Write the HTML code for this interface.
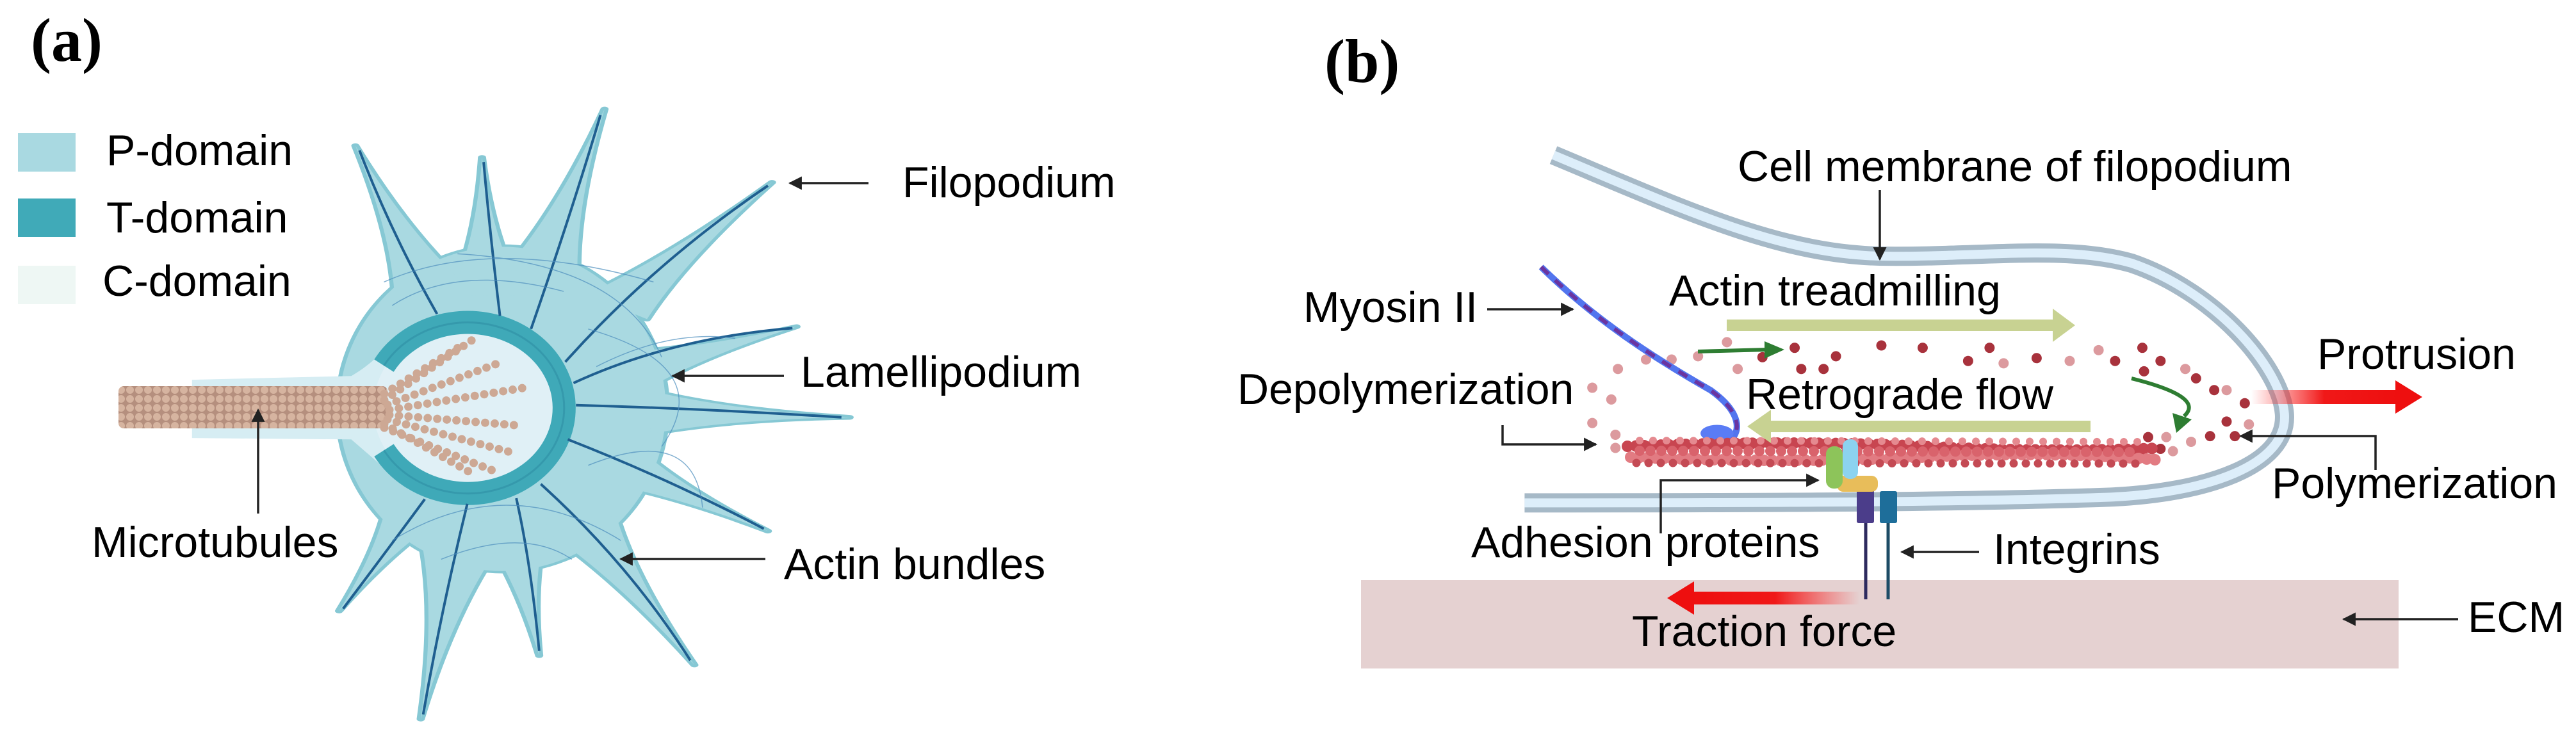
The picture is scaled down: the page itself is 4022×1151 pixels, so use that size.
<!DOCTYPE html>
<html><head><meta charset="utf-8"><style>
html,body{margin:0;padding:0;background:#fff;}
svg{display:block;}
.t{font-family:"Liberation Sans",sans-serif;font-size:68px;fill:#000;}
.h{font-family:"Liberation Serif",serif;font-weight:bold;font-size:96px;fill:#000;}
.ln{stroke:#222;stroke-width:3.5;fill:none;}
</style></head><body>
<svg width="4022" height="1151" viewBox="0 0 4022 1151" xmlns="http://www.w3.org/2000/svg" xmlns:xlink="http://www.w3.org/1999/xlink">
<defs>
<marker id="ah" viewBox="0 0 10 10" refX="9" refY="5" markerWidth="6" markerHeight="6" orient="auto"><path d="M0,0 L10,5 L0,10 z" fill="#222"/></marker>
<linearGradient id="gp" x1="0" x2="1" y1="0" y2="0"><stop offset="0" stop-color="#ff2a2a" stop-opacity="0"/><stop offset="0.5" stop-color="#f01818"/><stop offset="1" stop-color="#ee0f0f"/></linearGradient>
<linearGradient id="gt" x1="1" x2="0" y1="0" y2="0"><stop offset="0" stop-color="#ff2a2a" stop-opacity="0"/><stop offset="0.5" stop-color="#f01818"/><stop offset="1" stop-color="#ee0f0f"/></linearGradient>
<pattern id="mt" width="14" height="14" patternUnits="userSpaceOnUse"><rect width="14" height="14" fill="#b58f7e"/><circle cx="7" cy="7" r="6" fill="#d6b4a0"/></pattern>
<g id="cell">
<ellipse cx="615" cy="870" rx="200" ry="345"/>
<path d="M569,605 Q499,492 435,310 Q479,498 483,631 Z"/>
<path d="M641,628 Q603,512 590,335 Q583,512 551,630 Z"/>
<path d="M707,593 Q704,445 740,232 Q684,441 619,573 Z"/>
<path d="M792,679 Q839,553 945,388 Q823,541 718,627 Z"/>
<path d="M788,832 Q855,762 975,695 Q847,744 750,750 Z"/>
<path d="M796,923 Q895,892 1040,888 Q895,872 800,833 Z"/>
<path d="M726,1023 Q822,1052 940,1130 Q834,1036 780,951 Z"/>
<path d="M672,1134 Q759,1239 850,1415 Q777,1231 754,1096 Z"/>
<path d="M582,1111 Q630,1223 660,1395 Q650,1221 672,1101 Z"/>
<path d="M517,1161 Q533,1311 515,1530 Q553,1313 607,1173 Z"/>
<path d="M476,1046 Q467,1154 415,1300 Q485,1162 558,1082 Z"/>
</g>
</defs>

<!-- Panel a -->
<text class="h" x="48" y="95">(a)</text>
<rect x="28" y="208" width="90" height="60" fill="#a9d9e1"/>
<rect x="28" y="310" width="90" height="60" fill="#40aab8"/>
<rect x="28" y="415" width="90" height="60" fill="#eef7f4"/>
<text class="t" x="166" y="258">P-domain</text>
<text class="t" x="166" y="363">T-domain</text>
<text class="t" x="160" y="462">C-domain</text>

<g transform="scale(1.2755,0.734)">
<use xlink:href="#cell" href="#cell" fill="#86c8d4" stroke="#86c8d4" stroke-width="10" stroke-linejoin="round"/>
<use xlink:href="#cell" href="#cell" fill="#a9d9e1"/>
<path d="M235,808 L430,800 C450,780 470,750 480,720 L480,1010 C460,980 440,950 430,935 L235,932 Z" fill="#d6edf3"/>
<ellipse cx="575" cy="868" rx="118" ry="182" fill="#e0f0f6"/>
<path vector-effect="non-scaling-stroke" d="M470,778 A118 182 0 1 1 470,958" fill="none" stroke="#3fa9b8" stroke-width="36"/>
<path vector-effect="non-scaling-stroke" d="M470,778 A118 182 0 1 1 470,958" fill="none" stroke="#2f8fa5" stroke-width="3" opacity="0.6"/>
<g fill="none" stroke="#1f5f90" stroke-width="4">
<path vector-effect="non-scaling-stroke" d="M535,668 Q480,500 440,320"/>
<path vector-effect="non-scaling-stroke" d="M612,672 Q600,500 592,345"/>
<path vector-effect="non-scaling-stroke" d="M650,700 Q700,450 735,245"/>
<path vector-effect="non-scaling-stroke" d="M692,770 Q800,560 940,395"/>
<path vector-effect="non-scaling-stroke" d="M702,815 Q820,720 970,698"/>
<path vector-effect="non-scaling-stroke" d="M705,862 Q870,870 1030,888"/>
<path vector-effect="non-scaling-stroke" d="M695,935 Q820,1020 935,1125"/>
<path vector-effect="non-scaling-stroke" d="M662,1030 Q770,1200 845,1405"/>
<path vector-effect="non-scaling-stroke" d="M632,1060 Q650,1200 660,1385"/>
<path vector-effect="non-scaling-stroke" d="M572,1072 Q540,1300 518,1520"/>
<path vector-effect="non-scaling-stroke" d="M520,1062 Q470,1180 420,1295"/>
</g>
<g fill="none" stroke="#4e8fbe" stroke-width="1.5" opacity="0.7">
<path vector-effect="non-scaling-stroke" d="M470,600 Q600,500 800,600"/>
<path vector-effect="non-scaling-stroke" d="M560,540 Q760,560 810,760"/>
<path vector-effect="non-scaling-stroke" d="M720,700 Q880,780 810,950"/>
<path vector-effect="non-scaling-stroke" d="M720,990 Q850,900 860,1080"/>
<path vector-effect="non-scaling-stroke" d="M480,1150 Q620,1000 760,1150"/>
<path vector-effect="non-scaling-stroke" d="M700,1190 Q640,1120 540,1190"/>
<path vector-effect="non-scaling-stroke" d="M480,650 Q560,560 690,620"/>
<path vector-effect="non-scaling-stroke" d="M730,780 Q820,700 900,720"/>
</g>
</g>
<!-- microtubules -->
<rect x="185" y="603" width="420" height="66" rx="8" fill="url(#mt)"/>
<g fill="none" stroke="#cda894" stroke-width="13" stroke-dasharray="0 15" stroke-linecap="round">
<path d="M600,625 L746,525"/><path d="M605,632 L784,565"/><path d="M608,640 L816,606"/>
<path d="M608,648 L804,664"/><path d="M605,655 L804,708"/><path d="M600,662 L740,741"/>
<path d="M600,615 L720,540"/><path d="M600,668 L770,735"/>
</g>
<g class="ln">
<line x1="1356" y1="286" x2="1233" y2="286" marker-end="url(#ah)"/>
<line x1="1224" y1="587" x2="1050" y2="587" marker-end="url(#ah)"/>
<line x1="1195" y1="873" x2="969" y2="873" marker-end="url(#ah)"/>
<line x1="403" y1="802" x2="403" y2="640" marker-end="url(#ah)"/>
</g>
<text class="t" x="1409" y="308">Filopodium</text>
<text class="t" x="1250" y="604">Lamellipodium</text>
<text class="t" x="1224" y="904">Actin bundles</text>
<text class="t" x="143" y="870">Microtubules</text>

<!-- Panel b -->
<text class="h" x="2068" y="128">(b)</text>
<rect x="2125" y="906" width="1620" height="138" fill="#e5d1d1"/>
<g transform="translate(2000,0) scale(1.2895,0.734)">
<path vector-effect="non-scaling-stroke" d="M330,330 C480,440 600,540 725,545 C850,548 950,520 1030,560 C1130,620 1210,780 1215,880 C1220,990 1120,1050 1000,1058 C800,1070 500,1070 295,1070" fill="none" stroke="#a6b9c7" stroke-width="30"/>
<path vector-effect="non-scaling-stroke" d="M330,330 C480,440 600,540 725,545 C850,548 950,520 1030,560 C1130,620 1210,780 1215,880 C1220,990 1120,1050 1000,1058 C800,1070 500,1070 295,1070" fill="none" stroke="#ddeefa" stroke-width="14"/>
<g fill="#a8323c">
<ellipse cx="622" cy="740" rx="6.2" ry="10.9"/><ellipse cx="583" cy="760" rx="6.2" ry="10.9"/><ellipse cx="672" cy="758" rx="6.2" ry="10.9"/>
<ellipse cx="630" cy="785" rx="6.2" ry="10.9"/><ellipse cx="657" cy="785" rx="6.2" ry="10.9"/><ellipse cx="727" cy="735" rx="6.2" ry="10.9"/>
<ellipse cx="777" cy="740" rx="6.2" ry="10.9"/><ellipse cx="858" cy="740" rx="6.2" ry="10.9"/><ellipse cx="832" cy="768" rx="6.2" ry="10.9"/>
<ellipse cx="915" cy="762" rx="6.2" ry="10.9"/><ellipse cx="1010" cy="768" rx="6.2" ry="10.9"/><ellipse cx="1043" cy="740" rx="6.2" ry="10.9"/>
<ellipse cx="1065" cy="768" rx="6.2" ry="10.9"/><ellipse cx="1045" cy="790" rx="6.2" ry="10.9"/><ellipse cx="1108" cy="805" rx="6.2" ry="10.9"/>
<ellipse cx="1130" cy="830" rx="6.2" ry="10.9"/><ellipse cx="1167" cy="858" rx="6.2" ry="10.9"/><ellipse cx="1145" cy="897" rx="6.2" ry="10.9"/>
<ellipse cx="1125" cy="928" rx="6.2" ry="10.9"/><ellipse cx="1155" cy="928" rx="6.2" ry="10.9"/><ellipse cx="1050" cy="930" rx="6.2" ry="10.9"/>
<ellipse cx="1065" cy="955" rx="6.2" ry="10.9"/>
</g>
<g fill="#dc9a9e">
<ellipse cx="540" cy="728" rx="6.2" ry="10.9"/><ellipse cx="875" cy="773" rx="6.2" ry="10.9"/><ellipse cx="955" cy="768" rx="6.2" ry="10.9"/>
<ellipse cx="990" cy="745" rx="6.2" ry="10.9"/><ellipse cx="1095" cy="785" rx="6.2" ry="10.9"/><ellipse cx="1145" cy="830" rx="6.2" ry="10.9"/>
<ellipse cx="1172" cy="903" rx="6.2" ry="10.9"/><ellipse cx="1102" cy="940" rx="6.2" ry="10.9"/><ellipse cx="1072" cy="930" rx="6.2" ry="10.9"/>
<ellipse cx="1080" cy="960" rx="6.2" ry="10.9"/><ellipse cx="1055" cy="975" rx="6.2" ry="10.9"/><ellipse cx="408" cy="785" rx="6.2" ry="10.9"/>
<ellipse cx="442" cy="765" rx="6.2" ry="10.9"/><ellipse cx="473" cy="765" rx="6.2" ry="10.9"/><ellipse cx="505" cy="758" rx="6.2" ry="10.9"/>
<ellipse cx="553" cy="785" rx="6.2" ry="10.9"/><ellipse cx="377" cy="825" rx="6.2" ry="10.9"/><ellipse cx="400" cy="850" rx="6.2" ry="10.9"/>
<ellipse cx="377" cy="900" rx="6.2" ry="10.9"/><ellipse cx="405" cy="925" rx="6.2" ry="10.9"/><ellipse cx="405" cy="953" rx="6.2" ry="10.9"/>
</g>
<!-- myosin -->
<path vector-effect="non-scaling-stroke" d="M315,568 C380,680 450,760 520,830 C560,880 555,920 545,935" fill="none" stroke="#5275ee" stroke-width="10"/>
<path vector-effect="non-scaling-stroke" d="M315,568 C380,680 450,760 520,830 C560,880 555,920 545,935" fill="none" stroke="#6a34a0" stroke-width="6" stroke-dasharray="16 14"/>
<ellipse cx="528" cy="922" rx="20" ry="18" fill="#5a7cf5"/>
</g>
<!-- actin filament -->
<g fill="none" stroke-linecap="round">
<path d="M2541,697 Q2800,687 3000,697 T3367,700" stroke="#c84550" stroke-width="18" stroke-dasharray="0 13"/>
<path d="M2546,714 Q2800,724 3000,714 T3365,718" stroke="#e27b82" stroke-width="18" stroke-dasharray="0 13"/>
<path d="M2560,704 L3340,706" stroke="#d9636c" stroke-width="16" stroke-dasharray="0 17"/>
<path d="M2555,723 L3350,724" stroke="#c44a54" stroke-width="13" stroke-dasharray="0 19"/>
<path d="M2560,688 L3340,690" stroke="#e58a90" stroke-width="12" stroke-dasharray="0 21"/>
</g>
<!-- adhesion / integrins -->
<line x1="2913" y1="800" x2="2913" y2="936" stroke="#2d2a5e" stroke-width="5"/>
<line x1="2948" y1="800" x2="2948" y2="936" stroke="#1d4c66" stroke-width="5"/>
<rect x="2899" y="765" width="27" height="52" rx="3" fill="#4b3d8a"/>
<rect x="2935" y="767" width="27" height="50" rx="3" fill="#1e6e9a"/>
<rect x="2868" y="743" width="64" height="25" rx="10" fill="#e8bd5a"/>
<rect x="2851" y="697" width="26" height="66" rx="12" fill="#8dc45a"/>
<rect x="2877" y="686" width="24" height="62" rx="11" fill="#8cd3ef"/>
<!-- big arrows -->
<rect x="2696" y="499" width="512" height="18" fill="#c8d292"/><polygon points="3205,482 3240,508 3205,534" fill="#c8d292"/>
<rect x="2762" y="657" width="502" height="18" fill="#c8d292"/><polygon points="2765,640 2728,666 2765,692" fill="#c8d292"/>
<rect x="3515" y="609" width="228" height="22" fill="url(#gp)"/><polygon points="3740,594 3782,620 3740,646" fill="#ee0f0f"/>
<rect x="2640" y="924" width="263" height="20" fill="url(#gt)"/><polygon points="2645,908 2603,934 2645,960" fill="#ee0f0f"/>
<!-- green arrows -->
<path d="M2651,549 L2760,546" stroke="#2e7d32" stroke-width="6" fill="none"/><polygon points="2786,546 2755,533 2755,560" fill="#2e7d32"/>
<path d="M3328,591 Q3444,620 3410,650" stroke="#2e7d32" stroke-width="6" fill="none"/><polygon points="3398,676 3392,645 3422,655" fill="#2e7d32"/>
<!-- connectors -->
<g class="ln">
<line x1="2935" y1="297" x2="2935" y2="405" marker-end="url(#ah)"/>
<line x1="2322" y1="483" x2="2456" y2="483" marker-end="url(#ah)"/>
<polyline points="2346,664 2346,694 2492,694" marker-end="url(#ah)"/>
<polyline points="3709,734 3709,681 3498,681" marker-end="url(#ah)"/>
<polyline points="2593,833 2593,750 2839,750" marker-end="url(#ah)"/>
<line x1="3090" y1="862" x2="2969" y2="862" marker-end="url(#ah)"/>
<line x1="3838" y1="967" x2="3659" y2="967" marker-end="url(#ah)"/>
</g>
<text class="t" x="2713" y="283">Cell membrane of filopodium</text>
<text class="t" x="2035" y="503">Myosin II</text>
<text class="t" x="2606" y="477">Actin treadmilling</text>
<text class="t" x="2726" y="639">Retrograde flow</text>
<text class="t" x="1932" y="631">Depolymerization</text>
<text class="t" x="3618" y="576">Protrusion</text>
<text class="t" x="3547" y="778">Polymerization</text>
<text class="t" x="2297" y="870">Adhesion proteins</text>
<text class="t" x="3112" y="881">Integrins</text>
<text class="t" x="3853" y="987">ECM</text>
<text class="t" x="2548" y="1009">Traction force</text>
</svg>
</body></html>
